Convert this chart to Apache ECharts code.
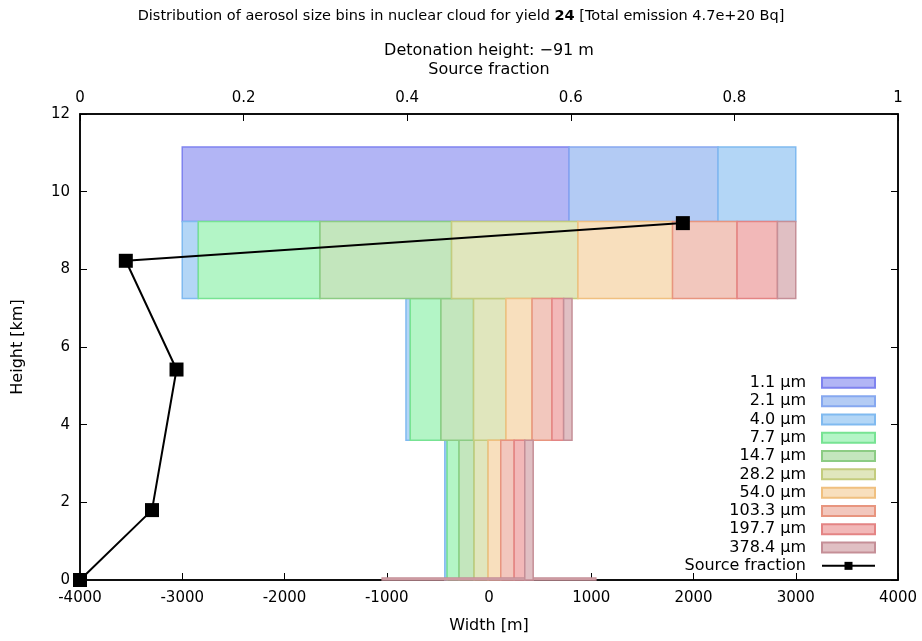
<!DOCTYPE html>
<html>
<head>
<meta charset="utf-8">
<script src="https://cdn.jsdelivr.net/npm/echarts@6/dist/echarts.min.js"></script>
<style>
  html, body { margin: 0; padding: 0; background: #fff; }
  #chart_one { width: 922px; height: 641px; }
</style>
</head>
<body>
<div id="chart_one"></div>
<script>
// cloud layers, from the ground up (km)
const layerBottom = [0, 0, 3.6, 7.25, 9.23];
const layerTop = [0.05, 3.6, 7.25, 9.23, 11.15];

// width of each size bin in every layer (m), laid side by side
const binNames = ['1.1 µm', '2.1 µm', '4.0 µm', '7.7 µm', '14.7 µm', '28.2 µm', '54.0 µm', '103.3 µm', '197.7 µm', '378.4 µm'];
const w1_1 = [0, 0, 0, 0, 3783];
const w2_1 = [0, 0, 0, 0, 1457];
const w4_0 = [0, 22, 42, 157, 760];
const w7_7 = [0, 117, 300, 1190, 0];
const w14_7 = [0, 147, 319, 1287, 0];
const w28_2 = [0, 137, 317, 1236, 0];
const w54_0 = [0, 124, 255, 925, 0];
const w103_3 = [0, 131, 195, 631, 0];
const w197_7 = [0, 104, 114, 395, 0];
const w378_4 = [2090, 82, 82, 179, 0];
const binWidths = [w1_1, w2_1, w4_0, w7_7, w14_7, w28_2, w54_0, w103_3, w197_7, w378_4];

// source fraction per layer (top axis) vs height
const fracValue = [0, 0.088, 0.118, 0.056, 0.737];
const fracHeight = [0, 1.8, 5.42, 8.22, 9.19];

const fillColors = ['#b2b5f5', '#b3cbf4', '#b3d6f6', '#b3f5c6', '#c3e6bd', '#e0e6bd', '#f8dfbd', '#f2c7bd', '#f2b8b8', '#e0bfc3'];
const edgeColors = ['#7f83ef', '#86a8f0', '#80baf0', '#77e393', '#8ccc84', '#c3cc7e', '#f0c080', '#e8957f', '#e48484', '#c58f97'];
const font = 'DejaVu Sans';

var theDom = document.getElementById('chart_one');
var myChart = echarts.init(theDom);

function renderItem(params, api) {
    var p0 = api.coord([api.value(0), api.value(3)]);
    var p1 = api.coord([api.value(1), api.value(2)]);
    var i = params.seriesIndex;
    return {
        type: 'rect',
        shape: { x: p0[0], y: p0[1], width: p1[0] - p0[0], height: p1[1] - p0[1] },
        style: { fill: fillColors[i], stroke: edgeColors[i], lineWidth: 1.5 }
    };
}

// lay the bins out left to right, each layer centred on 0
var cursor = layerBottom.map(function (_, l) {
    var total = binWidths.reduce(function (s, w) { return s + w[l]; }, 0);
    return -total / 2;
});
var boxSeries = binWidths.map(function (w, b) {
    var data = [];
    w.forEach(function (v, l) {
        if (v > 0) {
            data.push([cursor[l], cursor[l] + v, layerBottom[l], layerTop[l]]);
            cursor[l] += v;
        }
    });
    return {
        name: binNames[b],
        type: 'custom',
        renderItem: renderItem,
        encode: { x: [0, 1], y: [2, 3] },
        itemStyle: { color: fillColors[b], borderColor: edgeColors[b], borderWidth: 2 },
        z: 2,
        data: data
    };
});

var axisCommon = {
    type: 'value',
    axisLine: { show: true, onZero: false, lineStyle: { color: '#000', width: 1.5 } },
    axisTick: { show: true, inside: true, length: 7, lineStyle: { color: '#000', width: 1 } },
    axisLabel: { color: '#000', fontSize: 15, fontFamily: font },
    splitLine: { show: false },
    nameTextStyle: { color: '#000', fontSize: 16, fontFamily: font }
};

var option = {
    animation: false,
    title: {
        text: 'Distribution of aerosol size bins in nuclear cloud for yield {b|24} [Total emission 4.7e+20 Bq]',
        left: 'center',
        top: 4,
        textStyle: {
            fontSize: 14.5, fontWeight: 'normal', color: '#000', fontFamily: font,
            rich: { b: { fontSize: 14.5, fontWeight: 'bold', color: '#000', fontFamily: font } }
        }
    },
    graphic: [{
        type: 'text',
        x: 489, y: 51,
        style: { text: 'Detonation height: −91 m', align: 'center', verticalAlign: 'middle', fontSize: 16, fontFamily: font, fill: '#000' }
    }],
    grid: { left: 80, right: 24, top: 114, bottom: 61, show: true, borderColor: '#000', borderWidth: 1.5 },
    legend: {
        orient: 'vertical',
        right: 41,
        bottom: 61,
        align: 'right',
        itemWidth: 53,
        itemHeight: 10,
        itemGap: 0,
        textStyle: { fontSize: 16, lineHeight: 18.3, color: '#000', fontFamily: font, padding: [0, 11, 0, 0] },
        data: binNames.map(function (n, i) {
            return { name: n, icon: 'rect', itemStyle: { color: fillColors[i], borderColor: edgeColors[i], borderWidth: 2 } };
        }).concat([{ name: 'Source fraction' }])
    },
    xAxis: [
        Object.assign({}, axisCommon, {
            position: 'bottom', min: -4000, max: 4000, interval: 1000,
            name: 'Width [m]', nameLocation: 'middle', nameGap: 38,
            axisLabel: Object.assign({}, axisCommon.axisLabel, {
                margin: 11,
                formatter: function (v) { return String(v); }
            })
        }),
        Object.assign({}, axisCommon, {
            position: 'top', min: 0, max: 1, interval: 0.2,
            name: 'Source fraction', nameLocation: 'middle', nameGap: 36,
            axisLabel: Object.assign({}, axisCommon.axisLabel, { margin: 8 })
        })
    ],
    yAxis: [
        Object.assign({}, axisCommon, {
            position: 'left', min: 0, max: 12, interval: 2,
            name: 'Height [km]', nameLocation: 'middle', nameGap: 54,
            axisLabel: Object.assign({}, axisCommon.axisLabel, { margin: 10 })
        }),
        Object.assign({}, axisCommon, {
            position: 'right', min: 0, max: 12, interval: 2,
            axisLabel: { show: false }
        })
    ],
    series: boxSeries.concat([{
        name: 'Source fraction',
        type: 'line',
        xAxisIndex: 1,
        yAxisIndex: 0,
        symbol: 'rect',
        symbolSize: 14,
        clip: false,
        z: 5,
        lineStyle: { color: '#000', width: 2 },
        itemStyle: { color: '#000' },
        data: fracValue.map(function (f, i) { return [f, fracHeight[i]]; })
    }])
};

myChart.setOption(option);
window.onresize = function () {
    myChart.resize();
};
</script>
</body>
</html>
